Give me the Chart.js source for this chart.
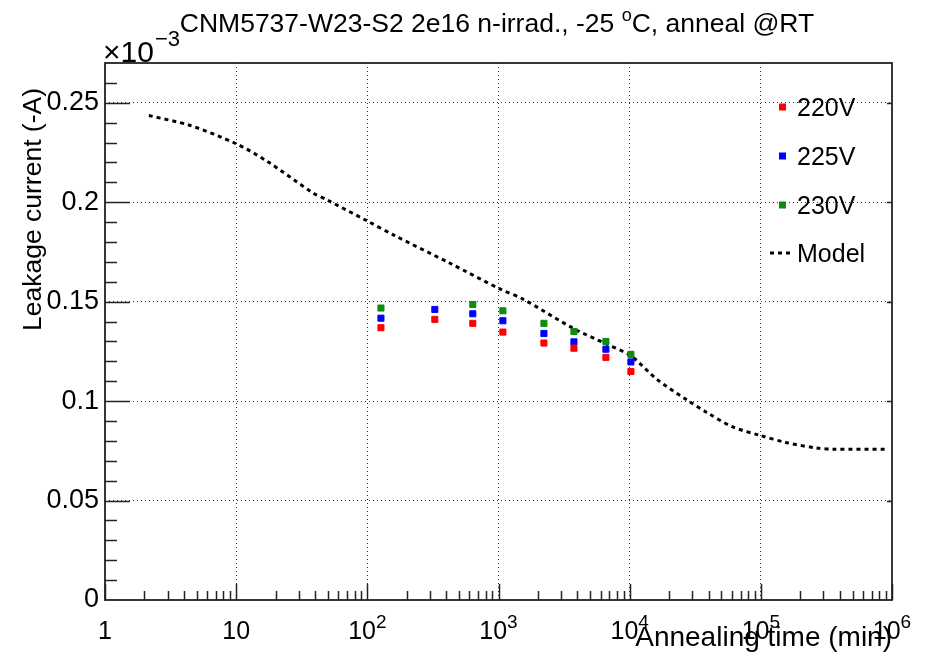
<!DOCTYPE html>
<html>
<head>
<meta charset="utf-8">
<script src="https://cdn.jsdelivr.net/npm/chart.js@4.4.0/dist/chart.umd.min.js"></script>
<style>
  html, body { margin: 0; padding: 0; background: #fff; }
  canvas { display: block; }
</style>
</head>
<body>
<canvas id="leakChart" width="926" height="664"></canvas>
<script>
// annealing times (min) of the measurements
const annealTimes = [127, 327, 637, 1080, 2220, 3760, 6590, 10220];
// leakage current, x10^-3 A
const current220V = [0.1369, 0.1411, 0.1391, 0.1347, 0.1292, 0.1266, 0.1220, 0.1149];
const current225V = [0.1417, 0.1461, 0.1439, 0.1404, 0.1340, 0.1298, 0.1261, 0.1197];
const current230V = [0.1468, null, 0.1486, 0.1454, 0.1391, 0.1350, 0.1300, 0.1235];
// model curve
const modelTimes = [2.16, 4.45, 10, 17.2, 38.5, 49.2, 99, 162, 427, 1025, 1535, 3690, 6700, 10200,
                    16100, 27300, 38700, 61200, 98200, 158000, 267000, 354000, 912000];
const modelCurrent = [0.2436, 0.2386, 0.2294, 0.2206, 0.2047, 0.2012, 0.1907, 0.1832, 0.1693, 0.1564, 0.1513,
                      0.1367, 0.1286, 0.1228, 0.1110, 0.1006, 0.0943, 0.0870, 0.0828, 0.0791, 0.0764, 0.0758, 0.0758];
// decade labels: base and exponent
const xTickBase = ['1', '10', '10', '10', '10', '10', '10'];
const xTickExp = ['', '', '2', '3', '4', '5', '6'];

const FONT = '"Liberation Sans", Arial, Helvetica, sans-serif';

function toPoints(xs, ys) {
    return xs.map((x, i) => ({x: x, y: ys[i]})).filter(p => p.y !== null);
}
function isDecade(v) {
    const e = Math.log10(v);
    return Math.abs(e - Math.round(e)) < 1e-9;
}

// log axis ticks: every mantissa 1..9 in each decade
const xTickValues = [];
for (let e = 0; e < 6; e++) {
    for (let m = 1; m <= 9; m++) xTickValues.push(m * Math.pow(10, e));
}
xTickValues.push(1e6);

const rootStyle = {
    id: 'rootStyle',
    afterDraw(chart) {
        const ctx = chart.ctx;
        const a = chart.chartArea;
        const xs = chart.scales.x, ys = chart.scales.y;
        ctx.save();
        ctx.strokeStyle = '#222';
        ctx.lineWidth = 1.5;
        // y ticks (inside the frame)
        for (let k = 1; k <= 26; k++) {
            const py = Math.round(ys.getPixelForValue(k / 100)) + 0.5;
            const len = (k % 5 === 0) ? 25 : 12;
            ctx.beginPath();
            ctx.moveTo(a.left, py); ctx.lineTo(a.left + len, py);
            ctx.stroke();
            if (k % 5 === 0) {
                ctx.beginPath();
                ctx.moveTo(a.right, py); ctx.lineTo(a.right - 5, py);
                ctx.stroke();
            }
        }
        // x ticks
        xTickValues.forEach(v => {
            const px = Math.round(xs.getPixelForValue(v)) + 0.5;
            const len = isDecade(v) ? 16 : 9;
            ctx.beginPath();
            ctx.moveTo(px, a.bottom); ctx.lineTo(px, a.bottom - len);
            ctx.stroke();
        });
        // frame
        ctx.lineWidth = 1.8;
        ctx.strokeRect(a.left, a.top, a.right - a.left, a.bottom - a.top);

        ctx.fillStyle = '#000';
        ctx.textBaseline = 'alphabetic';
        ctx.textAlign = 'left';

        // x decade labels, 10 with raised exponent
        xTickBase.forEach((b, e) => {
            const px = xs.getPixelForValue(Math.pow(10, e));
            ctx.font = '25px ' + FONT;
            const wb = ctx.measureText(b).width;
            ctx.font = '19px ' + FONT;
            const wx = xTickExp[e] ? ctx.measureText(xTickExp[e]).width : 0;
            const x0 = px - (wb + wx) / 2;
            ctx.font = '25px ' + FONT;
            ctx.fillText(b, x0, 639);
            if (xTickExp[e]) {
                ctx.font = '19px ' + FONT;
                ctx.fillText(xTickExp[e], x0 + wb, 628);
            }
        });

        // title with superscript degree
        const t1 = 'CNM5737-W23-S2 2e16 n-irrad., -25 ', t2 = 'o', t3 = 'C, anneal @RT';
        ctx.font = '26.5px ' + FONT;
        const w1 = ctx.measureText(t1).width, w3 = ctx.measureText(t3).width;
        ctx.font = '18px ' + FONT;
        const w2 = ctx.measureText(t2).width;
        const tx = 497 - (w1 + w2 + w3) / 2;
        ctx.font = '26.5px ' + FONT;
        ctx.fillText(t1, tx, 32);
        ctx.font = '18px ' + FONT;
        ctx.fillText(t2, tx + w1, 21);
        ctx.font = '26.5px ' + FONT;
        ctx.fillText(t3, tx + w1 + w2, 32);

        // exponent of the y axis
        ctx.font = '30px ' + FONT;
        ctx.fillText('×10', 103, 62);
        const we = ctx.measureText('×10').width;
        ctx.font = '22px ' + FONT;
        ctx.fillText('−3', 103 + we + 1, 46);

        // axis titles
        ctx.font = '28px ' + FONT;
        ctx.textAlign = 'right';
        ctx.fillText('Annealing time (min)', 892, 646);
        ctx.save();
        ctx.font = '26.5px ' + FONT;
        ctx.translate(41, 88);
        ctx.rotate(-Math.PI / 2);
        ctx.fillText('Leakage current (-A)', 0, 0);
        ctx.restore();

        // legend
        const rows = [107, 156, 205, 253];
        ctx.textAlign = 'left';
        ctx.textBaseline = 'middle';
        ctx.font = '25px ' + FONT;
        chart.data.datasets.forEach((ds, i) => {
            const y = rows[i];
            if (ds.showLine) {
                ctx.strokeStyle = ds.borderColor;
                ctx.lineWidth = ds.borderWidth;
                ctx.setLineDash(ds.borderDash);
                ctx.beginPath();
                ctx.moveTo(770, y); ctx.lineTo(793, y);
                ctx.stroke();
                ctx.setLineDash([]);
            } else {
                ctx.fillStyle = ds.backgroundColor;
                ctx.fillRect(779, y - 3.5, 7, 7);
            }
            ctx.fillStyle = '#000';
            ctx.fillText(ds.label, 797, y + 2);
        });
        ctx.restore();
    }
};

const ctxL = document.getElementById('leakChart').getContext('2d');
new Chart(ctxL, {
    type: 'scatter',
    data: {
        datasets: [{
            label: '220V',
            data: toPoints(annealTimes, current220V),
            backgroundColor: '#ff0000',
            borderColor: '#ff0000',
            pointStyle: 'rect',
            pointRadius: 4.3,
            borderWidth: 1
        }, {
            label: '225V',
            data: toPoints(annealTimes, current225V),
            backgroundColor: '#0000ff',
            borderColor: '#0000ff',
            pointStyle: 'rect',
            pointRadius: 4.3,
            borderWidth: 1
        }, {
            label: '230V',
            data: toPoints(annealTimes, current230V),
            backgroundColor: '#0d8c0d',
            borderColor: '#0d8c0d',
            pointStyle: 'rect',
            pointRadius: 4.3,
            borderWidth: 1
        }, {
            label: 'Model',
            data: toPoints(modelTimes, modelCurrent),
            showLine: true,
            borderColor: '#000',
            borderWidth: 3,
            borderDash: [4, 4],
            pointRadius: 0,
            tension: 0.3,
            order: 5
        }]
    },
    options: {
        responsive: false,
        animation: false,
        devicePixelRatio: 1,
        layout: { padding: { left: 0, right: 34, top: 63, bottom: 0 } },
        plugins: {
            legend: { display: false },
            title: { display: false },
            tooltip: { enabled: false }
        },
        scales: {
            x: {
                type: 'logarithmic',
                min: 1,
                max: 1e6,
                afterFit: s => { s.height = 64; },
                afterBuildTicks: s => { s.ticks = xTickValues.map(v => ({value: v, major: isDecade(v)})); },
                border: { display: false, dash: [1, 3] },
                grid: {
                    drawTicks: false,
                    lineWidth: 1,
                    color: c => (c.tick && isDecade(c.tick.value) && c.tick.value > 1 && c.tick.value < 1e6) ? '#333' : 'rgba(0,0,0,0)'
                },
                ticks: { display: false, autoSkip: false }
            },
            y: {
                type: 'linear',
                min: 0,
                max: 0.27,
                afterFit: s => { s.width = 105; },
                border: { display: false, dash: [1, 3] },
                grid: {
                    drawTicks: false,
                    lineWidth: 1,
                    color: c => (c.tick && c.tick.value > 0) ? '#333' : 'rgba(0,0,0,0)'
                },
                ticks: {
                    stepSize: 0.05,
                    includeBounds: false,
                    autoSkip: false,
                    padding: 6,
                    color: '#000',
                    font: { family: FONT, size: 27 },
                    callback: v => String(Number(v.toFixed(2)))
                }
            }
        }
    },
    plugins: [rootStyle]
});
</script>
</body>
</html>
